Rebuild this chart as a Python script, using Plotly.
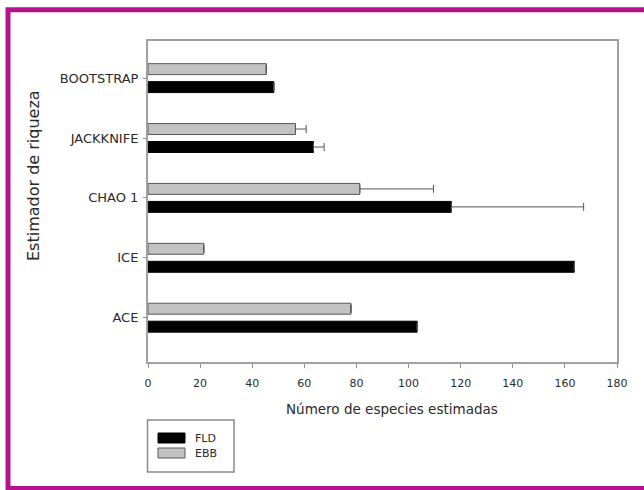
import plotly.graph_objects as go

# ---- data ----
categories = ["ACE", "ICE", "CHAO 1", "JACKKNIFE", "BOOTSTRAP"]
fld_values = [103.3, 163.6, 116.4, 63.5, 48.3]
ebb_values = [77.9, 21.4, 81.3, 56.6, 45.4]
fld_err = [None, None, 50.8, 4.1, None]
ebb_err = [None, None, 28.3, 4.1, None]
series_names = ["FLD", "EBB"]
x_ticks = [0, 20, 40, 60, 80, 100, 120, 140, 160, 180]

W, H = 644, 490
L, R, T, B = 148, 27, 41, 128
PW, PH = W - L - R, H - T - B

def px(x):
    return (x - L) / PW

def py(y):
    return (H - B - y) / PH

FONT = "DejaVu Sans"
TXT = "#2a2a2a"

fig = go.Figure()
fig.add_trace(go.Bar(
    y=categories, x=fld_values, orientation="h", name=series_names[0],
    marker=dict(color="#000000", line=dict(color="#000000", width=1)),
    error_x=dict(type="data", array=fld_err, arrayminus=[0] * len(fld_err),
                 symmetric=False, color="#555555", thickness=1, width=4),
    showlegend=False,
))
fig.add_trace(go.Bar(
    y=categories, x=ebb_values, orientation="h", name=series_names[1],
    marker=dict(color="#c2c2c2", line=dict(color="#5a5a5a", width=1)),
    error_x=dict(type="data", array=ebb_err, arrayminus=[0] * len(ebb_err),
                 symmetric=False, color="#555555", thickness=1, width=4),
    showlegend=False,
))

fig.update_layout(
    width=W, height=H,
    margin=dict(l=L, r=R, t=T, b=B, pad=0),
    paper_bgcolor="white", plot_bgcolor="white",
    barmode="group", bargap=0.4, bargroupgap=0.39,
    font=dict(family=FONT, color=TXT),
    xaxis=dict(
        range=[0, 180], tickvals=x_ticks, ticktext=[str(v) for v in x_ticks],
        showgrid=False, zeroline=False,
        showline=True, mirror=True, linecolor="#a0a0a0", linewidth=2,
        ticks="outside", ticklen=4, tickcolor="#909090", tickwidth=1,
        tickfont=dict(size=11, color=TXT), ticklabelstandoff=6,
    ),
    yaxis=dict(
        type="category", categoryorder="array", categoryarray=categories,
        range=[-0.74, 4.62],
        showgrid=False, zeroline=False,
        showline=True, mirror=True, linecolor="#a0a0a0", linewidth=2,
        ticks="outside", ticklen=3, tickcolor="#909090", tickwidth=1,
        tickfont=dict(size=13, color=TXT), ticklabelstandoff=2,
    ),
)

shapes = [
    # magenta page border
    dict(type="rect", xref="paper", yref="paper",
         x0=px(8), x1=px(660), y0=py(488.5), y1=py(9.8),
         line=dict(color="#b3148d", width=5), fillcolor="rgba(0,0,0,0)", layer="above"),
    # legend box
    dict(type="rect", xref="paper", yref="paper",
         x0=px(147.5), x1=px(234), y0=py(472), y1=py(420),
         line=dict(color="#8a8a8a", width=1.5), fillcolor="white"),
    dict(type="rect", xref="paper", yref="paper",
         x0=px(158), x1=px(185), y0=py(443), y1=py(433),
         line=dict(color="#000000", width=1), fillcolor="#000000"),
    dict(type="rect", xref="paper", yref="paper",
         x0=px(158), x1=px(185), y0=py(458), y1=py(448),
         line=dict(color="#5a5a5a", width=1), fillcolor="#c2c2c2"),
]

annotations = [
    dict(text="Número de especies estimadas", xref="paper", yref="paper",
         x=px(392), y=py(409), showarrow=False, xanchor="center", yanchor="middle",
         font=dict(size=13.5, color=TXT, family=FONT)),
    dict(text="Estimador de riqueza", xref="paper", yref="paper",
         x=px(33), y=py(176), showarrow=False, xanchor="center", yanchor="middle",
         textangle=-90, font=dict(size=16, color=TXT, family=FONT)),
    dict(text=series_names[0], xref="paper", yref="paper",
         x=px(193), y=py(438), showarrow=False, xanchor="left", yanchor="middle",
         font=dict(size=11, color=TXT, family=FONT)),
    dict(text=series_names[1], xref="paper", yref="paper",
         x=px(193), y=py(453), showarrow=False, xanchor="left", yanchor="middle",
         font=dict(size=11, color=TXT, family=FONT)),
]

fig.update_layout(shapes=shapes, annotations=annotations)
fig.write_html(
    "out.html",
    config={"displayModeBar": False},
    post_script="document.body.style.margin='0';document.body.style.padding='0';",
)
